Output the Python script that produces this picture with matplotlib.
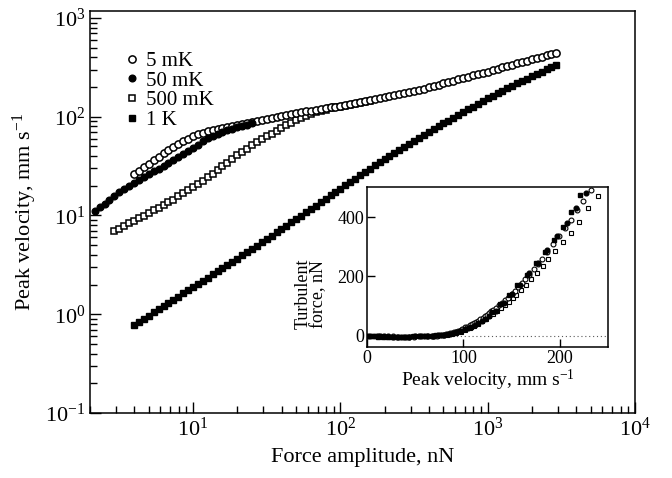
import matplotlib
matplotlib.use("Agg")
import matplotlib.pyplot as plt

plt.rcParams['font.family'] = ['Liberation Serif', 'DejaVu Serif']
plt.rcParams['mathtext.fontset'] = 'custom'
plt.rcParams['mathtext.rm'] = 'Liberation Serif'
plt.rcParams['mathtext.it'] = 'Liberation Serif:italic'
plt.rcParams['mathtext.default'] = 'regular'

# drive force sweep, nN (shared by all temperatures)
force_grid = [
    2.15, 2.33, 2.51, 2.71, 2.93, 3.16, 3.41, 3.69, 3.98, 4.30,
    4.64, 5.01, 5.41, 5.84, 6.31, 6.81, 7.36, 7.94, 8.58, 9.26,
    10.0, 10.8, 11.7, 12.6, 13.6, 14.7, 15.8, 17.1, 18.5, 20.0,
    21.5, 23.3, 25.1, 27.1, 29.3, 31.6, 34.1, 36.9, 39.8, 43.0,
    46.4, 50.1, 54.1, 58.4, 63.1, 68.1, 73.6, 79.4, 85.8, 92.6,
    100, 108, 117, 126, 136, 147, 158, 171, 185, 200,
    215, 233, 251, 271, 293, 316, 341, 369, 398, 430,
    464, 501, 541, 584, 631, 681, 736, 794, 858, 926,
    1000, 1080, 1170, 1260, 1360, 1470, 1580, 1710, 1850, 2000,
    2150, 2330, 2510, 2710, 2930,
]

# peak velocity, mm/s
v_5mk = [
    26.3, 28.5, 30.9, 33.5, 36.4, 39.5, 42.7, 46.0, 49.6, 53.1,
    56.6, 60.1, 63.4, 66.4, 69.2, 71.8, 74.0, 75.9, 77.5, 79.1,
    80.5, 82.2, 84.0, 85.7, 87.7, 89.7, 92.0, 94.4, 96.8, 99.3,
    101.9, 104.5, 106.7, 108.6, 110.7, 113.0, 115.1, 117.2, 119.7, 121.9,
    124.2, 126.8, 129.1, 131.5, 134.3, 136.8, 139.6, 142.9, 146.2, 149.6,
    153.1, 156.7, 160.7, 164.4, 168.3, 172.6, 177.0, 181.1, 186.6, 192.8,
    198.6, 204.6, 211.3, 217.8, 224.4, 231.7, 238.8, 246.0, 254.1, 261.8,
    269.8, 278.6, 287.1, 296.5, 305.5, 315.5, 325.8, 336.5, 346.7, 358.1,
    369.8, 381.1, 393.6, 406.4, 418.8, 432.5, 446.7,
]
v_50mk = [
    11.0, 12.1, 13.2, 14.4, 15.7, 17.1, 18.5, 19.9, 21.3, 22.8,
    24.4, 26.2, 28.0, 29.9, 31.9, 34.0, 36.4, 38.8, 41.7, 45.0,
    48.5, 52.2, 56.2, 60.5, 64.3, 67.6, 70.5, 73.1, 75.7, 78.2,
    80.5, 83.2, 86.1,
]
v_500mk = [
    6.95, 7.38, 7.83, 8.32, 8.83, 9.38, 9.98, 10.6, 11.3, 12.0,
    12.8, 13.6, 14.5, 15.6, 16.8, 18.1, 19.5, 20.9, 22.5, 24.4,
    26.6, 28.9, 31.5, 34.3, 37.4, 40.7, 44.2, 47.6, 51.2, 55.0,
    58.9, 63.1, 67.5, 71.9, 76.9, 82.0, 87.3, 92.3, 97.3, 102.1,
    106.9, 111.4, 114.8, 118.3, 121.6, 124.5, 126.8, 129.1, 131.5, 134.3,
    137.1, 140.3, 143.5,
]
v_1k = [
    0.778, 0.838, 0.902, 0.971, 1.045, 1.125, 1.211, 1.303, 1.403, 1.510,
    1.626, 1.750, 1.884, 2.028, 2.183, 2.350, 2.529, 2.723, 2.931, 3.155,
    3.396, 3.656, 3.936, 4.236, 4.560, 4.932, 5.333, 5.768, 6.237, 6.745,
    7.295, 7.889, 8.531, 9.226, 9.977, 10.79, 11.67, 12.62, 13.65, 14.76,
    15.96, 17.26, 18.66, 20.18, 21.83, 23.60, 25.53, 27.61, 29.85, 32.14,
    34.51, 37.15, 39.99, 43.05, 46.24, 49.55, 53.09, 56.89, 60.95, 65.31,
    69.98, 74.82, 79.98, 85.51, 91.41, 97.72, 104.5, 111.4, 118.6, 126.5,
    134.9, 143.5, 153.1, 162.6, 172.2, 182.8, 194.1, 205.6, 218.3, 230.1,
    243.2, 256.4, 270.4, 285.8, 301.3, 317.7, 335.0,
]

# first grid index of each sweep
start_5mk, start_50mk, start_500mk, start_1k = 8, 0, 4, 8
f_5mk = force_grid[start_5mk:start_5mk + len(v_5mk)]
f_50mk = force_grid[start_50mk:start_50mk + len(v_50mk)]
f_500mk = force_grid[start_500mk:start_500mk + len(v_500mk)]
f_1k = force_grid[start_1k:start_1k + len(v_1k)]

# inset: turbulent force (nN) vs peak velocity (mm/s)
vin_5mk = [27, 31, 35, 40, 44, 49, 54, 59, 63, 67,
           70, 73, 76, 78, 80, 82, 84, 86, 88, 90,
           92, 94, 97, 99, 102, 104, 107, 109, 111, 113,
           115, 117, 120, 122, 124, 127, 129, 131, 134, 137,
           140, 143, 146, 150, 153, 157, 161, 164, 168, 173,
           177, 181, 187, 193, 199, 205, 211, 218, 224, 232,
           239, 246]
fin_5mk = [-2, -3, -3, -3, -3, -3, -2, -2, -1, -1,
           0, 0, 1, 2, 3, 5, 6, 8, 10, 12,
           14, 17, 21, 24, 28, 31, 36, 40, 43, 47,
           51, 55, 61, 65, 70, 77, 82, 87, 95, 103,
           111, 120, 129, 141, 151, 165, 179, 190, 205, 225,
           241, 258, 283, 310, 336, 362, 390, 425, 455, 492,
           525, 560]
vin_50mk = [11, 14, 18, 22, 27, 32, 38, 44, 50, 56,
            62, 68, 74, 80, 86, 92, 98, 105, 112, 119,
            126, 134, 142, 150, 159, 168, 177, 187, 197, 207,
            217, 227]
fin_50mk = [0, -1, -2, -2, -3, -3, -3, -3, -2, -2,
            -1, 0, 1, 3, 6, 11, 17, 26, 37, 50,
            65, 85, 110, 140, 172, 210, 245, 290, 335, 380,
            430, 480]
vin_500mk = [7, 8, 9, 10, 12, 13, 15, 17, 19, 22,
             24, 27, 31, 34, 38, 43, 48, 53, 58, 63,
             68, 73, 78, 83, 88, 92, 97, 102, 107, 111,
             115, 119, 123, 127, 131, 135, 139, 143, 147, 151,
             155, 160, 165, 170, 176, 182, 188, 195, 203, 211,
             220, 229, 239]
fin_500mk = [0, 0, -1, -1, -1, -2, -2, -2, -3, -3,
             -3, -3, -3, -3, -3, -3, -2, -2, -1, -1,
             0, 0, 1, 3, 6, 9, 14, 20, 27, 34,
             41, 49, 57, 66, 75, 84, 94, 104, 115, 127,
             139, 155, 172, 190, 212, 235, 258, 285, 317, 345,
             385, 430, 470]
vin_1k = [0.8, 1.3, 2.0, 3.2, 5.0, 8.0, 12, 17, 22, 27,
          32, 37, 43, 49, 55, 61, 67, 72, 78, 84,
          90, 96, 102, 108, 115, 122, 130, 138, 147, 156,
          166, 175, 185, 194, 203, 212, 221]
fin_1k = [0, 0, -1, -1, -2, -2, -3, -3, -3, -3,
          -3, -3, -3, -2, -2, -1, 0, 1, 3, 6,
          10, 15, 22, 30, 42, 58, 80, 106, 138, 170,
          205, 244, 282, 322, 367, 416, 474]

labels = ['5 mK', '50 mK', '500 mK', '1 K']

fig = plt.figure(figsize=(6.72, 4.78), dpi=100)
ax = fig.add_axes([0.134, 0.136, 0.811, 0.841])

open_kw = dict(ls='none', mfc='white', mec='black', mew=1.1)
fill_kw = dict(ls='none', color='black')

h1k, = ax.plot(f_1k, v_1k, marker='s', ms=4.5, zorder=2, **fill_kw)
h500, = ax.plot(f_500mk, v_500mk, marker='s', ms=4.6, zorder=3, **open_kw)
h5, = ax.plot(f_5mk, v_5mk, marker='o', ms=5.2, zorder=4, **open_kw)
h50, = ax.plot(f_50mk, v_50mk, marker='o', ms=4.8, zorder=5, **fill_kw)

ax.set_xscale('log')
ax.set_yscale('log')
ax.set_xlim(2, 1e4)
ax.set_ylim(0.1, 1177)
ax.tick_params(which='both', direction='in', top=False, right=False,
               labelsize=16, width=1.0)
ax.tick_params(which='major', length=8)
ax.tick_params(which='minor', length=5)
for s in ax.spines.values():
    s.set_linewidth(1.1)
ax.set_xlabel('Force amplitude, nN', fontsize=16, labelpad=5)
ax.set_ylabel('Peak velocity, mm s$^{-1}$', fontsize=16, labelpad=4)

ax.legend([h5, h50, h500, h1k], labels, loc='upper left',
          bbox_to_anchor=(0.05, 0.92), frameon=False, numpoints=1,
          handlelength=0.6, handletextpad=0.4, labelspacing=0.0,
          borderaxespad=0, fontsize=15)

# inset
axin = fig.add_axes([0.546, 0.274, 0.359, 0.335])
axin.axhline(0, color='0.35', lw=0.8, ls=(0, (1, 2.5)), zorder=0)
axin.plot(vin_500mk, fin_500mk, marker='s', ms=3.3, zorder=2,
          ls='none', mfc='white', mec='black', mew=0.8)
axin.plot(vin_5mk, fin_5mk, marker='o', ms=3.5, zorder=3,
          ls='none', mfc='white', mec='black', mew=0.8)
axin.plot(vin_1k, fin_1k, marker='s', ms=3.3, zorder=4, **fill_kw)
axin.plot(vin_50mk, fin_50mk, marker='o', ms=3.4, zorder=4, **fill_kw)
axin.set_xlim(0, 250)
axin.set_ylim(-38, 502)
axin.set_xticks([0, 100, 200])
axin.set_yticks([0, 200, 400])
axin.tick_params(direction='in', length=6, width=1.0, labelsize=13,
                 top=False, right=False, pad=2)
for s in axin.spines.values():
    s.set_linewidth(1.1)
axin.set_xlabel('Peak velocity, mm s$^{-1}$', fontsize=14, labelpad=1)
axin.set_ylabel('Turbulent\nforce, nN', fontsize=13, linespacing=0.85)
axin.yaxis.set_label_coords(-0.165, 0.33)

fig.savefig('out.png', dpi=100)
